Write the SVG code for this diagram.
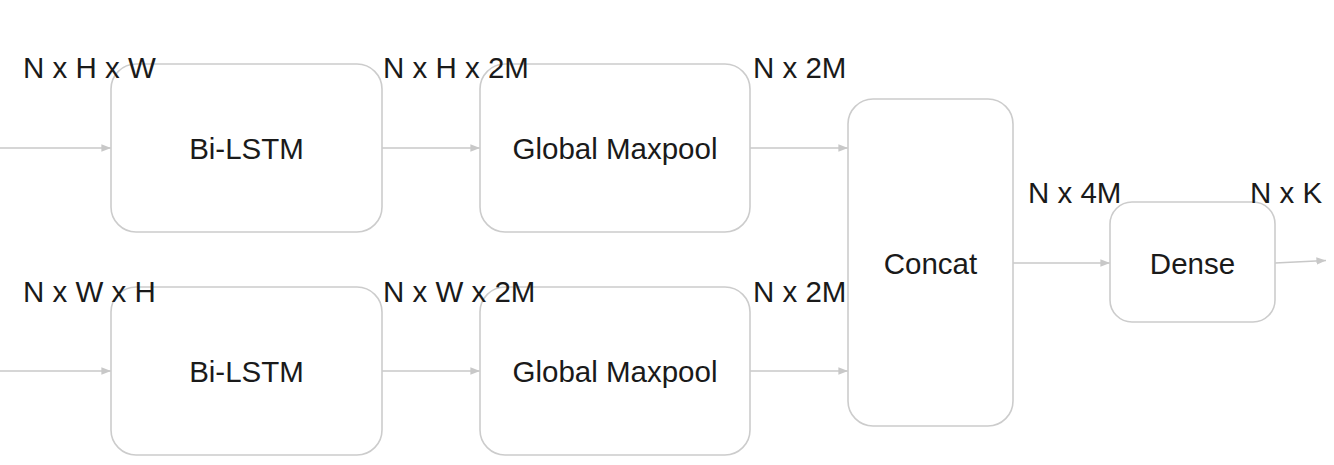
<svg xmlns="http://www.w3.org/2000/svg" width="1334" height="465" viewBox="0 0 1334 465">
<defs>
<style>
.box{fill:#ffffff;stroke:#cccccc;stroke-width:1.6}
.lbl{font-family:"Liberation Sans",Arial,sans-serif;font-size:29.5px;fill:#1a1a1a}
.mid{text-anchor:middle}
.edge{stroke:#c8c8c8;stroke-width:1.6;fill:none;marker-end:url(#ah)}
</style>
<marker id="ah" viewBox="0 0 10 8" refX="10" refY="4" markerWidth="6" markerHeight="4.8" markerUnits="strokeWidth" orient="auto">
<path d="M0,0 L10,4 L0,8 Z" fill="#c8c8c8"/>
</marker>
</defs>
<rect width="1334" height="465" fill="#ffffff"/>
<g id="connectors">
<line class="edge" x1="0" y1="148" x2="111" y2="148"/>
<line class="edge" x1="382" y1="148" x2="480" y2="148"/>
<line class="edge" x1="750" y1="148" x2="848" y2="148"/>
<line class="edge" x1="0" y1="371" x2="111" y2="371"/>
<line class="edge" x1="382" y1="371" x2="480" y2="371"/>
<line class="edge" x1="750" y1="371" x2="848" y2="371"/>
<line class="edge" x1="1013" y1="263" x2="1110" y2="263"/>
<line class="edge" x1="1275" y1="263" x2="1326" y2="260.5"/>
</g>
<g id="bilstm1">
<rect class="box" x="111" y="64" width="271" height="168" rx="25"/>
<text class="lbl mid" x="246.5" y="159">Bi-LSTM</text>
</g>
<g id="maxpool1">
<rect class="box" x="480" y="64" width="270" height="168" rx="25"/>
<text class="lbl mid" x="615" y="159">Global Maxpool</text>
</g>
<g id="bilstm2">
<rect class="box" x="111" y="287" width="271" height="168" rx="25"/>
<text class="lbl mid" x="246.5" y="382">Bi-LSTM</text>
</g>
<g id="maxpool2">
<rect class="box" x="480" y="287" width="270" height="168" rx="25"/>
<text class="lbl mid" x="615" y="382">Global Maxpool</text>
</g>
<g id="concat">
<rect class="box" x="848" y="99" width="165" height="327" rx="25"/>
<text class="lbl mid" x="930.5" y="274">Concat</text>
</g>
<g id="dense">
<rect class="box" x="1110" y="202" width="165" height="120" rx="22"/>
<text class="lbl mid" x="1192.5" y="274">Dense</text>
</g>
<g id="labels">
<text class="lbl" x="23" y="78">N x H x W</text>
<text class="lbl" x="383" y="78">N x H x 2M</text>
<text class="lbl" x="753" y="78">N x 2M</text>
<text class="lbl" x="23" y="302">N x W x H</text>
<text class="lbl" x="383" y="302">N x W x 2M</text>
<text class="lbl" x="753" y="302">N x 2M</text>
<text class="lbl" x="1028" y="203">N x 4M</text>
<text class="lbl" x="1250" y="203">N x K</text>
</g>
</svg>
